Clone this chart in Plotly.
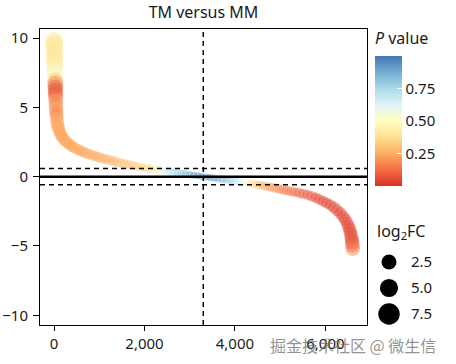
import plotly.graph_objects as go
import numpy as np

# ---------------- data ----------------
rank = [1, 3, 5, 7, 9, 11, 13, 15, 17, 19, 21, 23, 25, 27, 29, 31, 33, 36, 39, 42,
        46, 50, 55, 61, 68, 77, 88, 100, 115, 132, 152, 175, 200, 230, 262, 300,
        340, 385, 430, 480, 535, 590, 650, 715, 780, 850, 920, 995, 1070, 1150,
        1230, 1310, 1395, 1480, 1565, 1650, 1740, 1830, 1920, 2010, 2100, 2190,
        2280, 2370, 2460, 2550, 2640, 2730, 2820, 2910, 3000, 3090, 3180, 3270,
        3360, 3450, 3540, 3630, 3720, 3810, 3900, 3990, 4080, 4170, 4260, 4350,
        4440, 4530, 4620, 4710, 4800, 4890, 4980, 5070, 5160, 5250, 5340, 5430,
        5520, 5610, 5700, 5790, 5870, 5950, 6030, 6110, 6190, 6260, 6330, 6390,
        6440, 6480, 6515, 6540, 6558, 6572, 6583, 6592, 6599, 6605]

log2fc = [9.80, 9.65, 9.45, 9.20, 8.95, 8.70, 8.45, 8.20, 7.95, 7.70, 7.45, 7.20,
          6.95, 6.70, 6.45, 6.20, 5.95, 5.70, 5.45, 5.20, 4.95, 4.70, 4.45, 4.20,
          3.95, 3.78, 3.62, 3.48, 3.32, 3.16, 3.01, 2.88, 2.77, 2.65, 2.54, 2.43,
          2.33, 2.22, 2.12, 2.03, 1.94, 1.86, 1.78, 1.70, 1.62, 1.54, 1.47, 1.40,
          1.33, 1.26, 1.19, 1.12, 1.05, 0.98, 0.92, 0.86, 0.80, 0.74, 0.69, 0.64,
          0.59, 0.54, 0.49, 0.44, 0.40, 0.35, 0.31, 0.27, 0.22, 0.18, 0.14, 0.10,
          0.06, 0.02, -0.02, -0.06, -0.10, -0.14, -0.18, -0.22, -0.26, -0.30,
          -0.35, -0.40, -0.45, -0.50, -0.55, -0.60, -0.65, -0.71, -0.77, -0.83,
          -0.89, -0.95, -1.01, -1.07, -1.13, -1.19, -1.25, -1.32, -1.41, -1.52,
          -1.64, -1.77, -1.90, -2.05, -2.22, -2.42, -2.63, -2.87, -3.10, -3.35,
          -3.60, -3.84, -4.08, -4.30, -4.52, -4.74, -4.96, -5.20]

pvalue = [0.40, 0.41, 0.39, 0.42, 0.40, 0.41, 0.39, 0.42, 0.43, 0.45, 0.55, 0.48,
          0.30, 0.16, 0.08, 0.06, 0.08, 0.14, 0.22, 0.17, 0.23, 0.19, 0.16, 0.23,
          0.22, 0.25, 0.23, 0.25, 0.24, 0.25, 0.23, 0.24, 0.25, 0.23, 0.24, 0.25,
          0.24, 0.23, 0.25, 0.24, 0.25, 0.24, 0.23, 0.25, 0.24, 0.25, 0.25, 0.24,
          0.26, 0.25, 0.26, 0.27, 0.28, 0.29, 0.30, 0.31, 0.32, 0.33, 0.34, 0.36,
          0.38, 0.41, 0.46, 0.56, 0.63, 0.69, 0.73, 0.77, 0.81, 0.85, 0.89, 0.93,
          0.97, 0.99, 0.99, 0.97, 0.93, 0.89, 0.85, 0.81, 0.77, 0.72, 0.67, 0.61,
          0.53, 0.43, 0.35, 0.30, 0.26, 0.23, 0.21, 0.19, 0.17, 0.15, 0.13, 0.12,
          0.11, 0.10, 0.09, 0.08, 0.07, 0.06, 0.06, 0.05, 0.05, 0.04, 0.04, 0.05,
          0.04, 0.05, 0.04, 0.06, 0.04, 0.05, 0.07, 0.05, 0.08, 0.06, 0.10, 0.14]

x_ticks = [0, 2000, 4000, 6000]
y_ticks = [-10, -5, 0, 5, 10]
p_ticks = [0.25, 0.50, 0.75]
legend_values = [2.5, 5.0, 7.5]
legend_labels = ["2.5", "5.0", "7.5"]
fc_threshold = 0.585
mid_rank = 3300

# ---------------- styling ----------------
W, H = 456, 364
ML, MR, MT, MB = 40, 5, 29, 39
PW = W - ML - MR
PH = H - MT - MB
plot_right_px = 367

colorscale = [[0.0, "#d73027"], [0.125, "#f46d43"], [0.25, "#fdae61"],
              [0.375, "#fee090"], [0.5, "#ffffbf"], [0.625, "#e0f3f8"],
              [0.75, "#abd9e9"], [0.875, "#74add1"], [1.0, "#4575b4"]]

sizes = 6 + 3.8 * np.sqrt(np.abs(np.array(log2fc)))
legend_sizes = 11.7 + 1.3 * np.array(legend_values)

FONT = "Noto Sans"
TXT = "#1a1a1a"

fig = go.Figure()

fig.add_trace(go.Scatter(
    x=rank, y=log2fc, mode="markers",
    marker=dict(
        size=sizes, color=pvalue, colorscale=colorscale, cmin=0, cmax=1,
        opacity=0.45, line=dict(width=0),
        colorbar=dict(
            x=(375 - ML) / PW, xanchor="left", xpad=0,
            y=(MT + PH - 186) / PH, yanchor="bottom", ypad=0,
            len=157, lenmode="pixels", thickness=27, outlinewidth=0,
            tickvals=p_ticks, tickformat=".2f",
            ticks="inside", ticklen=5, tickcolor="white", tickwidth=1,
            tickfont=dict(size=15, color=TXT, family=FONT),
            title=dict(text="<i>P</i> value", side="top",
                       font=dict(size=16, color=TXT, family=FONT)),
        ),
    ),
    hoverinfo="skip", showlegend=False,
))

# size legend drawn on a small auxiliary axis pair
fig.add_trace(go.Scatter(
    x=["log2FC"] * len(legend_labels), y=legend_labels, mode="markers",
    marker=dict(size=legend_sizes, color="black", opacity=1, line=dict(width=0)),
    xaxis="x2", yaxis="y2", hoverinfo="skip", showlegend=False,
))

axis_common = dict(showgrid=False, zeroline=False, showline=True, mirror=True,
                   linecolor="black", linewidth=1, ticks="outside",
                   tickcolor="black", tickwidth=1,
                   tickfont=dict(size=15, color=TXT, family=FONT))

fig.update_layout(
    width=W, height=H,
    margin=dict(l=ML, r=MR, t=MT, b=MB, autoexpand=False),
    plot_bgcolor="white", paper_bgcolor="white",
    font=dict(family=FONT, color=TXT, size=15),
    showlegend=False,
    hovermode=False,
    title=dict(text="TM versus MM", x=((ML + plot_right_px) / 2 - ML) / PW,
               xanchor="center", xref="paper", y=1 - 12 / H, yanchor="middle",
               yref="container", font=dict(size=16, color=TXT, family=FONT)),
    xaxis=dict(domain=[0, (plot_right_px - ML) / PW], range=[-310, 6920],
               tickvals=x_ticks, tickformat=",", ticklen=5, **axis_common),
    yaxis=dict(range=[-10.7, 10.65], tickvals=y_ticks, ticklen=6,
               ticklabelstandoff=2, **axis_common),
    xaxis2=dict(domain=[(376 - ML) / PW, (402 - ML) / PW], anchor="y2",
                type="category", range=[-0.5, 0.5], visible=False),
    yaxis2=dict(domain=[0, (MT + PH - 249) / PH], anchor="x2", side="right",
                type="category", categoryarray=legend_labels[::-1],
                categoryorder="array",
                range=[-0.423, 2.5], showgrid=False, zeroline=False,
                showline=False, ticks="", ticklabelstandoff=8,
                tickfont=dict(size=15, color=TXT, family=FONT)),
    shapes=[
        dict(type="line", xref="x", yref="y domain", x0=mid_rank, x1=mid_rank,
             y0=0, y1=1, line=dict(color="black", width=1.5, dash="5px,4px"),
             layer="above"),
        dict(type="line", xref="x domain", yref="y", x0=0, x1=1,
             y0=fc_threshold, y1=fc_threshold,
             line=dict(color="black", width=1.5, dash="5px,4px"), layer="above"),
        dict(type="line", xref="x domain", yref="y", x0=0, x1=1,
             y0=-fc_threshold, y1=-fc_threshold,
             line=dict(color="black", width=1.5, dash="5px,4px"), layer="above"),
        dict(type="line", xref="x domain", yref="y", x0=0, x1=1, y0=0, y1=0,
             line=dict(color="black", width=2.5), layer="above"),
    ],
    annotations=[
        dict(text="log<sub>2</sub>FC", xref="paper", yref="paper",
             x=(375 - ML) / PW, y=(MT + PH - 232) / PH, xanchor="left",
             yanchor="middle", showarrow=False,
             font=dict(size=16, color=TXT, family=FONT)),
        dict(text="掘金技术社区 @ 微生信", xref="paper", yref="paper",
             x=(268 - ML) / PW, y=(MT + PH - 345) / PH, xanchor="left",
             yanchor="middle", showarrow=False,
             font=dict(size=16, color="rgba(110,110,110,0.75)",
                       family="Noto Sans CJK SC")),
    ],
)

fig.write_html("out.html",
               config={"displayModeBar": False, "staticPlot": True},
               post_script="document.body.style.margin='0px';"
                           "document.body.style.padding='0px';")
